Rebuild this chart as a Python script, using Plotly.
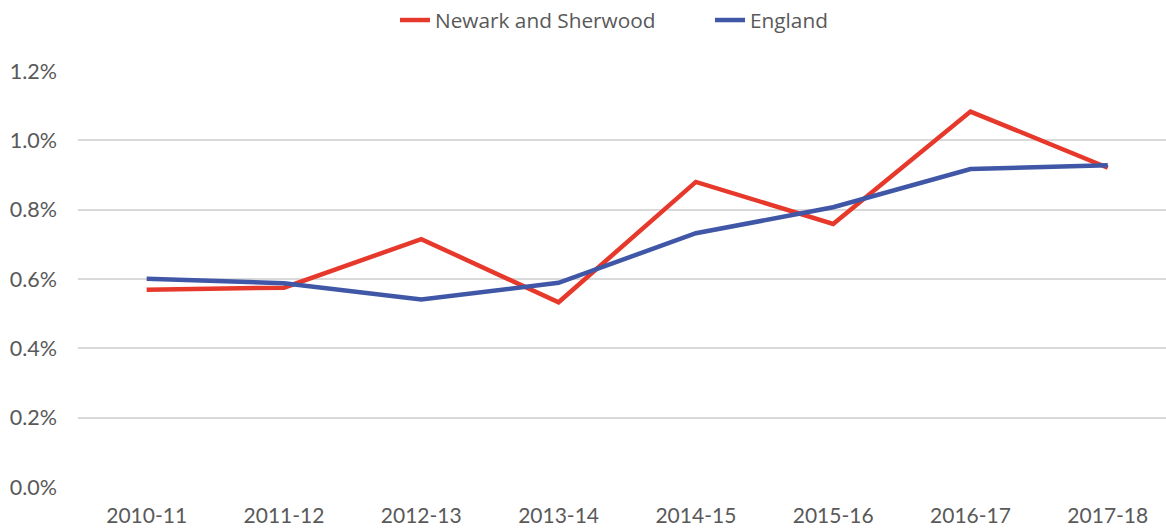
import plotly.graph_objects as go

years = ["2010-11", "2011-12", "2012-13", "2013-14", "2014-15", "2015-16", "2016-17", "2017-18"]
newark = [0.00569, 0.00575, 0.00715, 0.00533, 0.00880, 0.00759, 0.01083, 0.00921]
england = [0.00601, 0.00588, 0.00541, 0.00589, 0.00732, 0.00807, 0.00917, 0.00928]

RED = "#E6392B"
BLUE = "#3F57A6"
TXT = "#595959"

fig = go.Figure()
fig.add_trace(go.Scatter(x=list(range(len(years))), y=newark, mode="lines", name="Newark and Sherwood",
                         line=dict(color=RED, width=4.5)))
fig.add_trace(go.Scatter(x=list(range(len(years))), y=england, mode="lines", name="England",
                         line=dict(color=BLUE, width=4.5)))

fig.update_layout(
    width=1166, height=530,
    margin=dict(l=78, r=0, t=71, b=43, autoexpand=False),
    paper_bgcolor="white", plot_bgcolor="white",
    font=dict(family="Lato, Carlito, sans-serif", size=20, color=TXT),
    showlegend=True,
    legend=dict(orientation="h", x=395 / 1166, xanchor="left", xref="container",
                y=1.0, yanchor="top", yref="container",
                font=dict(family="Open Sans, sans-serif", size=20.8, color=TXT),
                entrywidth=270, entrywidthmode="pixels"),
    xaxis=dict(tickmode="array", tickvals=list(range(len(years))), ticktext=years,
               range=[-0.5, 7.424], showgrid=False, zeroline=False, showline=False,
               ticks="", automargin=False, ticklabelstandoff=14,
               tickfont=dict(size=21, color=TXT)),
    yaxis=dict(range=[0, 0.012], tickvals=[0, 0.002, 0.004, 0.006, 0.008, 0.010, 0.012],
               tickformat=".1%", showgrid=True, gridcolor="#D9D9D9", gridwidth=1.5,
               zeroline=False, showline=False, ticks="", automargin=False,
               ticklabelstandoff=20, tickfont=dict(size=21.5, color=TXT)),
)
fig.write_html("out.html", config={"displayModeBar": False},
               post_script="document.body.style.margin='0';")
